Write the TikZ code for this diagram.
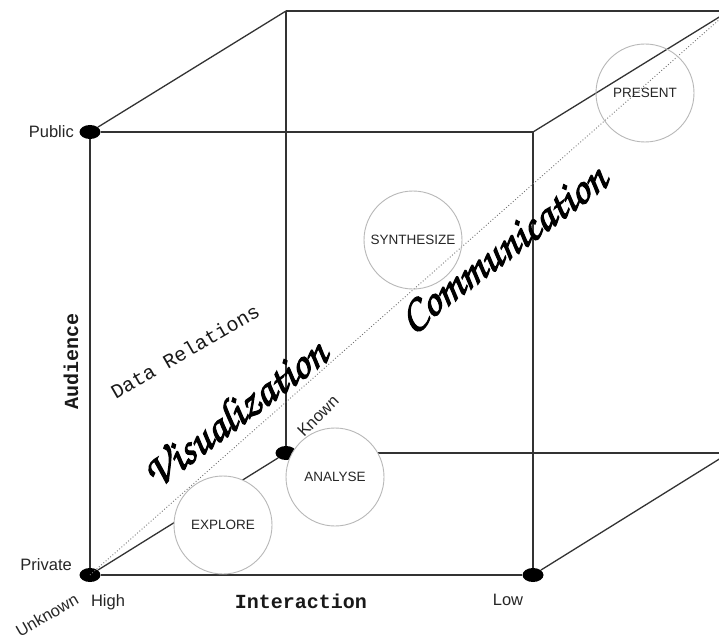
\documentclass[tikz,border=0pt]{standalone}
\usepackage[T1,TU]{fontenc}
\usepackage{fontspec}
\setmainfont{Liberation Sans}
\newfontfamily\cubemono{Liberation Mono}
\newcommand\cubescript{\fontencoding{T1}\fontfamily{pzc}\fontseries{mb}\fontshape{it}\selectfont}
\newcommand\cubethick[1]{\special{pdf:literal direct 2 Tr 1.1 w}#1\special{pdf:literal direct 0 Tr}}
\usetikzlibrary{shapes.geometric}
\tikzset{
  edge/.style={draw=black!80, line width=1.3bp},
  diag/.style={draw=black!55, line width=0.9bp, dash pattern=on 0.9bp off 2.1bp},
  blob/.style={ellipse, fill=black, minimum width=21bp, minimum height=14bp, inner sep=0pt},
  stage/.style={circle, draw=black!28, line width=0.9bp, minimum size=98bp, inner sep=0pt,
    font=\fontsize{13.5bp}{15bp}\selectfont, text=black!85},
  lab/.style={font=\fontsize{16.5bp}{18bp}\selectfont, text=black!85, inner sep=0pt},
  axislab/.style={font=\cubemono\bfseries\fontsize{20bp}{22bp}\selectfont, text=black!90, inner sep=0pt},
  rellab/.style={font=\cubemono\fontsize{20bp}{22bp}\selectfont, text=black!90, inner sep=0pt},
  scriptlab/.style={font=\cubescript\fontsize{45bp}{47bp}\selectfont, text=black, inner sep=0pt}
}
\begin{document}
\begin{tikzpicture}[x=1bp,y=-1bp]
\useasboundingbox (0,0) rectangle (719,635);
\clip (0,0) rectangle (719,635);
\fill[white] (0,0) rectangle (719,635);
% corners
\node[blob] (pub) at (90,132) {};
\node[blob] (priv) at (90,575) {};
\node[blob] (low) at (533,575) {};
\node[blob] (known) at (286,453) {};
\coordinate (ftr) at (533,132);
\coordinate (btl) at (286,11);
\coordinate (btr) at (729,11);
\coordinate (bbr) at (729,453);
\coordinate (far) at (729,11);
% cube edges
\draw[edge] (pub) -- (ftr) -- (low);
\draw[edge] (low) -- (priv);
\draw[edge] (priv) -- (pub);
\draw[edge] (btl) -- (btr);
\draw[edge] (btl) -- (known);
\draw[edge] (known) -- (bbr);
\draw[edge] (btr) -- (bbr);
\draw[edge] (pub) -- (btl);
\draw[edge] (ftr) -- (btr);
\draw[edge] (low) -- (bbr);
\draw[edge] (priv) -- (known);
% diagonal
\draw[diag] (priv.center) -- (far);
% stages
\node[stage, fill=white] (explore) at (223,525) {EXPLORE};
\node[stage, fill=white] (analyse) at (335,477) {ANALYSE};
\node[stage] (synth) at (413,240) {SYNTHESIZE};
\node[stage] (present) at (645,93) {PRESENT};
% labels
\node[lab, anchor=east] (tpub) at (74,132) {Public};
\node[lab, anchor=east] (tpriv) at (72,565) {Private};
\node[lab] (thigh) at (108,602) {High};
\node[lab] (tlow) at (508,600) {Low};
\node[lab, rotate=30] (tunk) at (47,615) {Unknown};
\node[lab, rotate=45] (tknown) at (318,416) {Known};
\node[axislab, rotate=90] (taud) at (71,361) {Audience};
\node[axislab] (tint) at (301,601) {Interaction};
\node[rellab, rotate=30] (trel) at (185,351) {Data Relations};
\node[scriptlab, rotate=37] (tvis) at (234,412) {\cubethick{Visualization}};
\node[scriptlab, rotate=37] (tcom) at (503,248) {\cubethick{Communication}};
\end{tikzpicture}
\end{document}
